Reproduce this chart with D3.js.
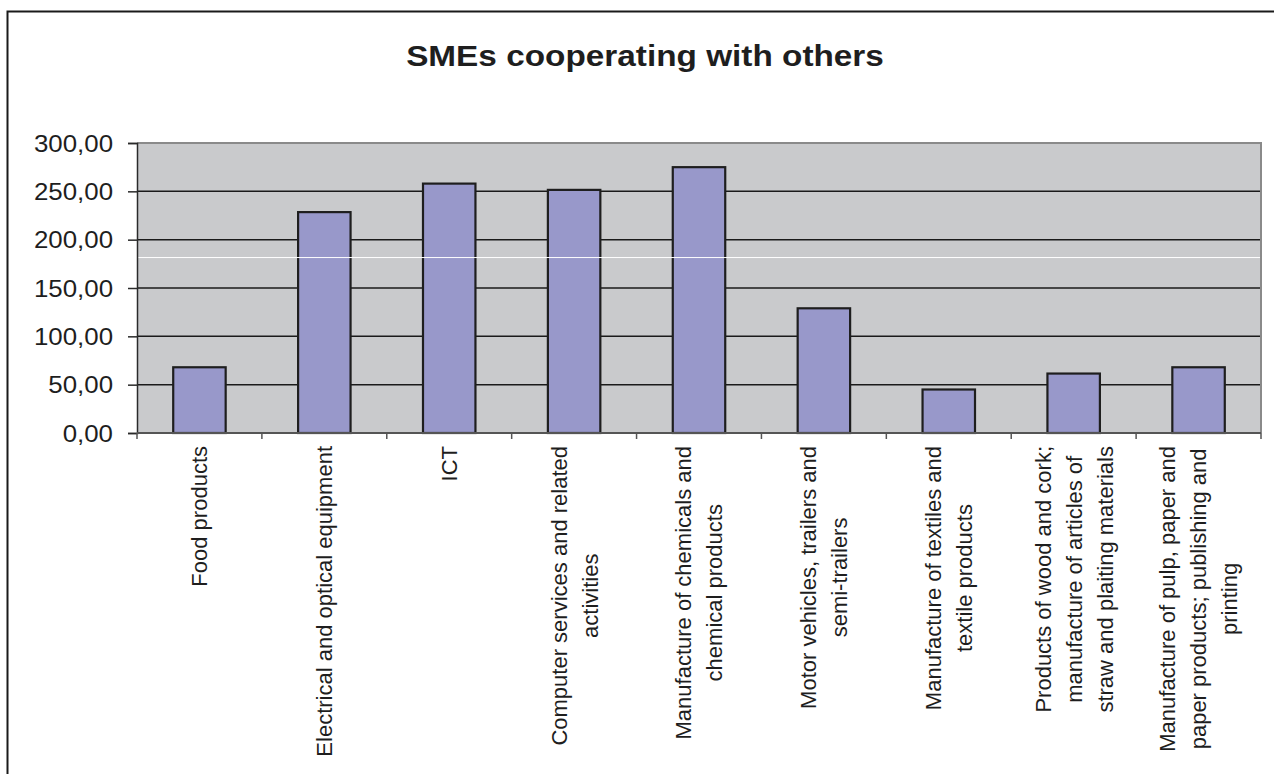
<!DOCTYPE html>
<html>
<head>
<meta charset="utf-8">
<script src="https://cdn.jsdelivr.net/npm/d3@7"></script>
<style>
  body { margin: 0; background: #fff; }
  text { font-family: "Liberation Sans", Arial, sans-serif; fill: #1e1e1e; }
</style>
</head>
<body>
<svg id="chart" width="1274" height="774"></svg>
<script>
// data
var categories = [
  ["Food products"],
  ["Electrical and optical equipment"],
  ["ICT"],
  ["Computer services and related", "activities"],
  ["Manufacture of chemicals and", "chemical products"],
  ["Motor vehicles,  trailers and", "semi-trailers"],
  ["Manufacture of textiles and", "textile products"],
  ["Products of wood and cork;", "manufacture of articles of", "straw and plaiting materials"],
  ["Manufacture of pulp, paper and", "paper products; publishing and", "printing"]
];
var values = [68, 228.5, 258, 251.5, 275, 129, 45, 61.5, 68];
var yTicks = [0, 50, 100, 150, 200, 250, 300];
var title = "SMEs cooperating with others";
var whiteStreak = 181.5;   // thin white streak seen across the plot

var svg = d3.select("#chart");

var margin = {top: 143, left: 137, right: 13, bottom: 341};
var width = 1274 - margin.left - margin.right,
    height = 774 - margin.top - margin.bottom;

// outer frame
svg.append("rect")
  .attr("x", 7.5).attr("y", 11.5)
  .attr("width", 1300).attr("height", 800)
  .attr("fill", "#fff")
  .attr("stroke", "#1a1a1a").attr("stroke-width", 2);

svg.append("text")
  .attr("transform", "translate(645,66) scale(1.13,1)")
  .attr("text-anchor", "middle")
  .style("font-size", "29.5px")
  .style("font-weight", "bold")
  .text(title);

var g = svg.append("g").attr("transform", "translate(" + margin.left + "," + margin.top + ")");

var x = d3.scaleBand()
  .domain(d3.range(categories.length))
  .range([0, width])
  .paddingInner(0.58)
  .paddingOuter(0.29);

var y = d3.scaleLinear()
  .domain([0, 300])
  .range([height, 0]);

g.append("rect")
  .attr("width", width).attr("height", height)
  .attr("fill", "#c9cacc");

// gridlines
g.selectAll(".grid")
  .data(yTicks.filter(function(d) { return d > 0 && d < 300; }))
  .enter().append("line")
    .attr("x1", 0).attr("x2", width)
    .attr("y1", function(d) { return y(d); })
    .attr("y2", function(d) { return y(d); })
    .attr("stroke", "#1a1a1a").attr("stroke-width", 1.5);

// plot border top/right
g.append("path")
  .attr("d", "M0," + y(300) + "H" + width + "V" + height)
  .attr("fill", "none")
  .attr("stroke", "#8a8a8a").attr("stroke-width", 2);

g.selectAll(".bar")
  .data(values)
  .enter().append("rect")
    .attr("class", "bar")
    .attr("x", function(d, i) { return x(i); })
    .attr("y", function(d) { return y(d); })
    .attr("width", x.bandwidth())
    .attr("height", function(d) { return height - y(d); })
    .attr("fill", "#9898ca")
    .attr("stroke", "#1e1e1e").attr("stroke-width", 2.2);

g.append("line")
  .attr("x1", 1).attr("x2", width - 1)
  .attr("y1", y(whiteStreak)).attr("y2", y(whiteStreak))
  .attr("stroke", "#fff").attr("stroke-width", 1);

// y axis
var yAxis = g.append("g")
  .call(d3.axisLeft(y).tickValues(yTicks).tickSize(9).tickFormat(function(d) { return d3.format(".2f")(d).replace(".", ","); }));
yAxis.select(".domain").attr("stroke", "#2a2a2a").attr("stroke-width", 1.5);
yAxis.selectAll(".tick line").attr("stroke", "#2a2a2a").attr("stroke-width", 1.5);
yAxis.selectAll(".tick text")
  .attr("x", null).attr("dy", null)
  .attr("transform", "translate(-24,8) scale(1.1,1)")
  .style("font-size", "23.5px");

// x axis: ticks at the band boundaries
var xAxisG = g.append("g").attr("transform", "translate(0," + height + ")");
xAxisG.append("line")
  .attr("x1", 0).attr("x2", width)
  .attr("stroke", "#555").attr("stroke-width", 2);
xAxisG.selectAll(".xtick")
  .data(d3.range(categories.length + 1))
  .enter().append("line")
    .attr("x1", function(i) { return i * x.step(); })
    .attr("x2", function(i) { return i * x.step(); })
    .attr("y1", 0).attr("y2", 6)
    .attr("stroke", "#555").attr("stroke-width", 1.5);

// rotated category labels
var labelSize = 22, lineGap = 31, labelTop = 446;
categories.forEach(function(lines, i) {
  var cx = margin.left + x(i) + x.bandwidth() / 2;
  var lab = svg.append("g");
  var ts = lab.selectAll("text").data(lines).enter().append("text")
    .attr("text-anchor", "middle")
    .style("font-size", labelSize + "px")
    .text(function(d) { return d; });
  var maxLen = d3.max(ts.nodes(), function(n) { return n.getComputedTextLength(); });
  lab.attr("transform", "translate(" + cx + "," + (labelTop + maxLen / 2) + ") rotate(-90)");
  ts.attr("x", 0)
    .attr("y", function(d, j) { return (j - (lines.length - 1) / 2) * lineGap + 0.36 * labelSize; });
});
</script>
</body>
</html>
